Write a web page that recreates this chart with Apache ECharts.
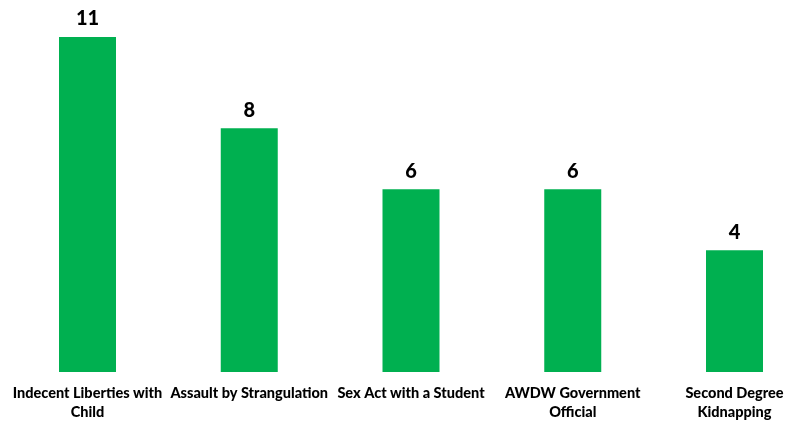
<!DOCTYPE html>
<html><head><meta charset="utf-8">
<script src="https://cdn.jsdelivr.net/npm/echarts@6/dist/echarts.min.js"></script>
<style>html,body{margin:0;padding:0;background:#fff}#c{width:799px;height:422px}</style>
</head><body><div id="c"></div>
<script>
const categories = ["Indecent Liberties with Child","Assault by Strangulation","Sex Act with a Student","AWDW Government Official","Second Degree Kidnapping"];
const tickLabels = ["Indecent Liberties with\nChild","Assault by Strangulation","Sex Act with a Student","AWDW Government\nOfficial","Second Degree\nKidnapping"];
const values = [11, 8, 6, 6, 4];
const chart = echarts.init(document.getElementById('c'));
chart.setOption({
  animation: false,
  grid: {left: 87.5, top: 37, right: 64.5, bottom: 50},
  xAxis: {
    type: 'category', data: categories, boundaryGap: false,
    axisLine: {show: false}, axisTick: {show: false},
    axisLabel: {
      interval: 0, margin: 12, color: '#000', fontWeight: 900, fontSize: 14.5,
      fontFamily: 'Lato', lineHeight: 19,
      formatter: (v, i) => tickLabels[i]
    }
  },
  yAxis: {type: 'value', min: 0, max: 11, show: false, splitLine: {show: false}},
  series: [{
    type: 'bar', data: values, barWidth: 57, clip: false,
    itemStyle: {color: '#00B050'},
    label: {show: true, position: 'top', distance: 8, color: '#000', fontWeight: 900, fontSize: 20, fontFamily: 'Lato'}
  }]
});
</script></body></html>
